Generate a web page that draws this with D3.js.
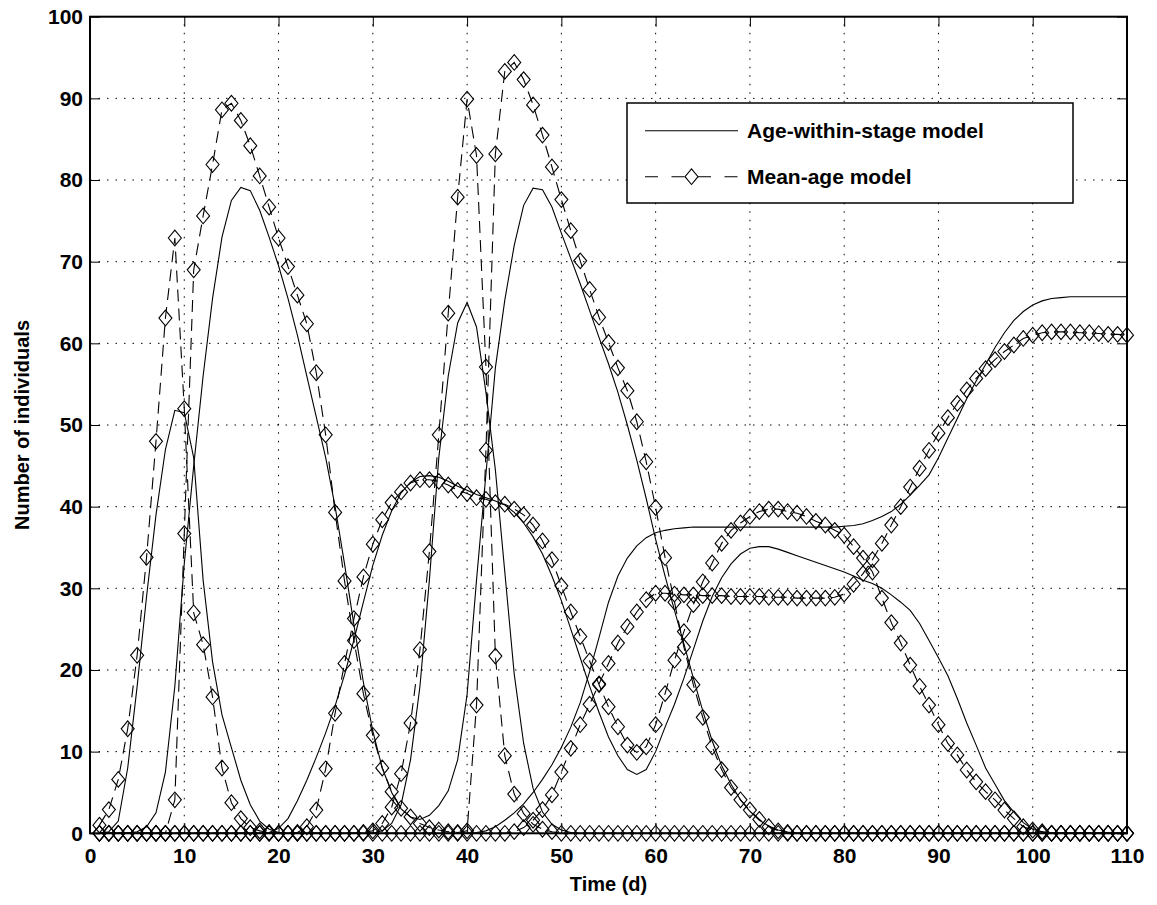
<!DOCTYPE html>
<html>
<head>
<meta charset="utf-8">
<script src="https://cdn.jsdelivr.net/npm/d3@7"></script>
<style>
  body { margin: 0; background: #fff; }
  svg text { font-family: "Liberation Sans", Arial, sans-serif; font-weight: bold; fill: #000; }
</style>
</head>
<body>
<div id="chart"></div>
<script>
// Time axis: one value per day
const days = d3.range(1, 111);
const xTicks = d3.range(0, 111, 10);
const yTicks = d3.range(0, 101, 10);

// Age-within-stage model (solid lines)
const eggsAws = [
  0, 0.2, 1.5, 8, 18, 29, 39, 47, 51.8, 51.5,
  46, 31, 21, 14.5, 10.5, 6.5, 3.5, 1.5, 0.5, 0.1,
  0, 0, 0, 0, 0, 0, 0, 0, 0, 0,
  0.3, 1.2, 3.5, 9, 18, 31, 46, 56, 62.5, 65,
  62, 54, 44.5, 32, 19.5, 11, 5.5, 2.6, 1.1, 0.4,
  0.1, 0, 0, 0, 0, 0, 0, 0, 0, 0,
  0, 0, 0, 0, 0, 0, 0, 0, 0, 0,
  0, 0, 0, 0, 0, 0, 0, 0, 0, 0,
  0, 0, 0, 0, 0, 0, 0, 0, 0, 0,
  0, 0, 0, 0, 0, 0, 0, 0, 0, 0,
  0, 0, 0, 0, 0, 0, 0, 0, 0, 0
];
const larvaeAws = [
  0, 0, 0, 0, 0.2, 0.8, 2.5, 7.5, 18, 33,
  45, 56, 65.5, 73, 77.5, 79.1, 78.7, 76.3, 73, 69.5,
  65.5, 61, 56, 51, 46, 40, 33, 25.5, 18.5, 12.5,
  8, 5, 3, 2, 1.7, 2.2, 3.4, 5.2, 9, 17,
  31, 44, 57, 65.3, 72, 76.9, 79, 78.8, 76.7, 73.5,
  70.4, 67.3, 64, 60.7, 57.5, 54, 50, 45.7, 41, 36,
  31.5, 27.3, 23.2, 19, 15, 11.3, 8.3, 6, 4.1, 2.7,
  1.6, 0.9, 0.4, 0.15, 0, 0, 0, 0, 0, 0,
  0, 0, 0, 0, 0, 0, 0, 0, 0, 0,
  0, 0, 0, 0, 0, 0, 0, 0, 0, 0,
  0, 0, 0, 0, 0, 0, 0, 0, 0, 0
];
const pupaeAws = [
  0, 0, 0, 0, 0, 0, 0, 0, 0, 0,
  0, 0, 0, 0, 0, 0, 0, 0, 0.1, 0.6,
  1.8, 4, 6.5, 9.3, 12.3, 15.6, 19.4, 23.7, 28.3, 32.8,
  36.5, 39.5, 41.7, 43, 43.7, 43.8, 43.6, 43.1, 42.5, 42,
  41.5, 41.1, 40.7, 40.2, 39.3, 38, 36.3, 34.2, 31.5, 28.5,
  25, 21.5, 18, 14.8, 11.8, 9.5, 7.8, 7.2, 7.8, 10,
  13, 15.8, 19, 22.5, 26, 29, 31.3, 33, 34.2, 34.9,
  35.1, 35.1, 34.8, 34.4, 34, 33.6, 33.2, 32.8, 32.4, 32,
  31.5, 31, 30.6, 30, 29.2, 28.3, 27.3, 25.7, 23.6, 21.5,
  19.3, 16.5, 13.5, 10.8, 8, 6, 4, 2.6, 1.3, 0.5,
  0.2, 0, 0, 0, 0, 0, 0, 0, 0, 0
];
const adultsAws = [
  0, 0, 0, 0, 0, 0, 0, 0, 0, 0,
  0, 0, 0, 0, 0, 0, 0, 0, 0, 0,
  0, 0, 0, 0, 0, 0, 0, 0, 0, 0,
  0, 0, 0, 0, 0, 0, 0, 0, 0, 0,
  0.1, 0.3, 0.8, 1.6, 2.5, 3.6, 5, 6.6, 8.4, 10.5,
  13, 16, 19.8, 24, 28.3, 31.5, 33.7, 35.2, 36.2, 36.8,
  37.1, 37.3, 37.4, 37.5, 37.5, 37.5, 37.5, 37.5, 37.5, 37.5,
  37.5, 37.5, 37.5, 37.5, 37.5, 37.5, 37.5, 37.5, 37.5, 37.6,
  37.7, 37.9, 38.3, 38.8, 39.4, 40.3, 41.4, 42.6, 43.9, 46,
  48.4, 50.8, 53.2, 55.4, 57.4, 59.5, 61.3, 62.8, 63.9, 64.7,
  65.2, 65.5, 65.6, 65.7, 65.7, 65.7, 65.7, 65.7, 65.7, 65.7
];

// Mean-age model (dashed lines with diamonds)
const eggsMa = [
  1.0, 2.9, 6.6, 12.8, 21.8, 33.8, 48.0, 63.1, 72.9, 52.0,
  27.0, 23.1, 16.7, 8.0, 3.75, 1.8, 0.7, 0.3, 0.1, 0,
  0, 0, 0, 0, 0, 0, 0, 0, 0.1, 0.3,
  1.2, 3.2, 7.3, 13.5, 22.5, 34.5, 48.8, 63.7, 77.9, 89.9,
  83.0, 57.1, 21.7, 9.5, 4.8, 2.4, 1.1, 0.5, 0.2, 0,
  0, 0, 0, 0, 0, 0, 0, 0, 0, 0,
  0, 0, 0, 0, 0, 0, 0, 0, 0, 0,
  0, 0, 0, 0, 0, 0, 0, 0, 0, 0,
  0, 0, 0, 0, 0, 0, 0, 0, 0, 0,
  0, 0, 0, 0, 0, 0, 0, 0, 0, 0,
  0, 0, 0, 0, 0, 0, 0, 0, 0, 0
];
const larvaeMa = [
  0, 0, 0, 0, 0, 0, 0, 0, 4.1, 36.7,
  69.0, 75.6, 81.9, 88.6, 89.4, 87.3, 84.2, 80.5, 76.7, 72.9,
  69.4, 65.9, 62.4, 56.4, 48.8, 39.3, 30.9, 23.6, 17.1, 12.0,
  8.0, 5.1, 3.06, 2.0, 1.2, 0.7, 0.4, 0.2, 0.1, 0.3,
  15.7, 46.9, 83.2, 93.3, 94.4, 92.3, 89.2, 85.5, 81.6, 77.6,
  73.8, 70.1, 66.6, 63.2, 60.1, 57.0, 54.2, 50.4, 45.5, 39.9,
  33.75, 28.3, 22.8, 18.2, 14.2, 10.6, 7.8, 5.6, 4.1, 2.85,
  1.7, 0.8, 0.3, 0.1, 0, 0, 0, 0, 0, 0,
  0, 0, 0, 0, 0, 0, 0, 0, 0, 0,
  0, 0, 0, 0, 0, 0, 0, 0, 0, 0,
  0, 0, 0, 0, 0, 0, 0, 0, 0, 0
];
const pupaeMa = [
  0, 0, 0, 0, 0, 0, 0, 0, 0, 0,
  0, 0, 0, 0, 0, 0, 0, 0, 0, 0,
  0, 0.1, 0.8, 2.85, 7.9, 14.7, 20.8, 26.3, 31.4, 35.4,
  38.4, 40.5, 41.8, 42.9, 43.3, 43.3, 43.1, 42.65, 42.0, 41.6,
  41.1, 40.9, 40.5, 40.3, 39.7, 39.0, 37.75, 35.8, 33.5, 30.3,
  27.1, 24.1, 21.1, 18.2, 15.5, 13.05, 10.8, 9.9, 10.6, 13.3,
  17.1, 21.2, 24.7, 28.0, 30.8, 33.1, 35.5, 37.1, 38.0, 38.8,
  39.4, 39.7, 39.7, 39.4, 39.2, 38.8, 38.2, 37.75, 37.1, 36.5,
  35.1, 33.7, 32.0, 28.8, 25.8, 23.3, 20.6, 18.0, 15.7, 13.3,
  11.0, 9.6, 7.75, 6.3, 5.1, 4.1, 2.85, 1.8, 0.8, 0.4,
  0.2, 0, 0, 0, 0, 0, 0, 0, 0, 0
];
const adultsMa = [
  0, 0, 0, 0, 0, 0, 0, 0, 0, 0,
  0, 0, 0, 0, 0, 0, 0, 0, 0, 0,
  0, 0, 0, 0, 0, 0, 0, 0, 0, 0,
  0, 0, 0, 0, 0, 0, 0, 0, 0, 0,
  0, 0, 0, 0, 0.2, 0.7, 1.6, 2.9, 4.7, 7.5,
  10.4, 13.3, 15.8, 18.3, 20.8, 23.3, 25.3, 27.1, 28.6, 29.4,
  29.4, 29.3, 29.2, 29.2, 29.1, 29.1, 29.1, 29.0, 29.0, 29.0,
  29.0, 28.9, 28.9, 28.9, 28.8, 28.8, 28.8, 28.8, 28.9, 29.3,
  30.5, 31.8, 33.5, 35.5, 37.75, 40.0, 42.4, 44.7, 46.9, 49.0,
  50.9, 52.65, 54.3, 55.7, 56.9, 58.0, 59.0, 59.8, 60.6, 61.0,
  61.3, 61.4, 61.4, 61.4, 61.3, 61.3, 61.2, 61.1, 61.1, 61.0
];

const awsSeries = [eggsAws, larvaeAws, pupaeAws, adultsAws];
const maSeries = [eggsMa, larvaeMa, pupaeMa, adultsMa];
const legendLabels = ['Age-within-stage model', 'Mean-age model'];

// Layout
const W = 1157, H = 905;
const plotLeft = 90, plotRight = 1127, plotTop = 16.7, plotBottom = 833.3;

const x = d3.scaleLinear().domain([0, 110]).range([plotLeft, plotRight]);
const y = d3.scaleLinear().domain([0, 100]).range([plotBottom, plotTop]);

const svg = d3.select('#chart').append('svg')
  .attr('width', W)
  .attr('height', H);

// Grid (dotted)
const grid = svg.append('g')
  .attr('stroke', '#000')
  .attr('stroke-width', 1)
  .attr('stroke-dasharray', '1.5,7');
grid.selectAll('.vg')
  .data(xTicks.filter(d => d > 0 && d < 110))
  .enter().append('line')
  .attr('x1', d => x(d)).attr('x2', d => x(d))
  .attr('y1', plotBottom).attr('y2', plotTop);
grid.selectAll('.hg')
  .data(yTicks.filter(d => d > 0 && d < 100))
  .enter().append('line')
  .attr('x1', plotLeft).attr('x2', plotRight)
  .attr('y1', d => y(d)).attr('y2', d => y(d));

// Solid lines
const line = d3.line()
  .x((d, i) => x(days[i]))
  .y(d => y(d));

svg.append('g').selectAll('path')
  .data(awsSeries)
  .enter().append('path')
  .attr('fill', 'none')
  .attr('stroke', '#000')
  .attr('stroke-width', 1.1)
  .attr('d', line);

// Dashed lines
svg.append('g').selectAll('path')
  .data(maSeries)
  .enter().append('path')
  .attr('fill', 'none')
  .attr('stroke', '#000')
  .attr('stroke-width', 1.1)
  .attr('stroke-dasharray', '12,7')
  .attr('d', line);

// Diamond markers
const hw = 6.5, hh = 7.8;
const diamond = `M0,${-hh}L${hw},0L0,${hh}L${-hw},0Z`;
maSeries.forEach(s => {
  svg.append('g').selectAll('path')
    .data(s)
    .enter().append('path')
    .attr('d', diamond)
    .attr('transform', (d, i) => 'translate(' + x(days[i]) + ',' + y(d) + ')')
    .attr('fill', 'none')
    .attr('stroke', '#000')
    .attr('stroke-width', 1.1);
});

// Axes with inward ticks
const tickStyle = g => {
  g.select('.domain').remove();
  g.selectAll('.tick line').attr('stroke', '#000').attr('stroke-width', 1);
  g.selectAll('.tick text').style('font-size', '21px');
};

svg.append('g')
  .attr('transform', 'translate(0,' + plotBottom + ')')
  .call(d3.axisBottom(x).tickValues(xTicks).tickSizeInner(-10).tickSizeOuter(0).tickPadding(15))
  .call(tickStyle);

svg.append('g')
  .attr('transform', 'translate(' + plotLeft + ',0)')
  .call(d3.axisLeft(y).tickValues(yTicks).tickSizeInner(-10).tickSizeOuter(0).tickPadding(7))
  .call(tickStyle);

svg.append('g')
  .attr('transform', 'translate(0,' + plotTop + ')')
  .call(d3.axisTop(x).tickValues(xTicks).tickSizeInner(-10).tickSizeOuter(0).tickFormat(''))
  .call(tickStyle);

svg.append('g')
  .attr('transform', 'translate(' + plotRight + ',0)')
  .call(d3.axisRight(y).tickValues(yTicks).tickSizeInner(-10).tickSizeOuter(0).tickFormat(''))
  .call(tickStyle);

// Axes box
svg.append('rect')
  .attr('x', plotLeft).attr('y', plotTop)
  .attr('width', plotRight - plotLeft).attr('height', plotBottom - plotTop)
  .attr('fill', 'none')
  .attr('stroke', '#000')
  .attr('stroke-width', 2);

// Axis labels
svg.append('text')
  .attr('x', (plotLeft + plotRight) / 2)
  .attr('y', 891)
  .attr('text-anchor', 'middle')
  .style('font-size', '20px')
  .text('Time (d)');

svg.append('text')
  .attr('transform', 'translate(29,' + (plotTop + plotBottom) / 2 + ') rotate(-90)')
  .attr('text-anchor', 'middle')
  .style('font-size', '20px')
  .text('Number of individuals');

// Legend
const legend = svg.append('g');
legend.append('rect')
  .attr('x', 627).attr('y', 103)
  .attr('width', 446).attr('height', 100)
  .attr('fill', '#fff')
  .attr('stroke', '#000')
  .attr('stroke-width', 1.5);

legend.append('line')
  .attr('x1', 645).attr('x2', 738)
  .attr('y1', 130.7).attr('y2', 130.7)
  .attr('stroke', '#000').attr('stroke-width', 1.1);

legend.append('line')
  .attr('x1', 645).attr('x2', 738)
  .attr('y1', 176.7).attr('y2', 176.7)
  .attr('stroke', '#000').attr('stroke-width', 1.1)
  .attr('stroke-dasharray', '13,13.5');

legend.append('path')
  .attr('d', diamond)
  .attr('transform', 'translate(691.5,176.7)')
  .attr('fill', '#fff')
  .attr('stroke', '#000')
  .attr('stroke-width', 1.1);

legend.selectAll('.lt')
  .data(legendLabels)
  .enter().append('text')
  .attr('x', 747)
  .attr('y', (d, i) => 138 + i * 45.5)
  .style('font-size', '21px')
  .text(d => d);
</script>
</body>
</html>
